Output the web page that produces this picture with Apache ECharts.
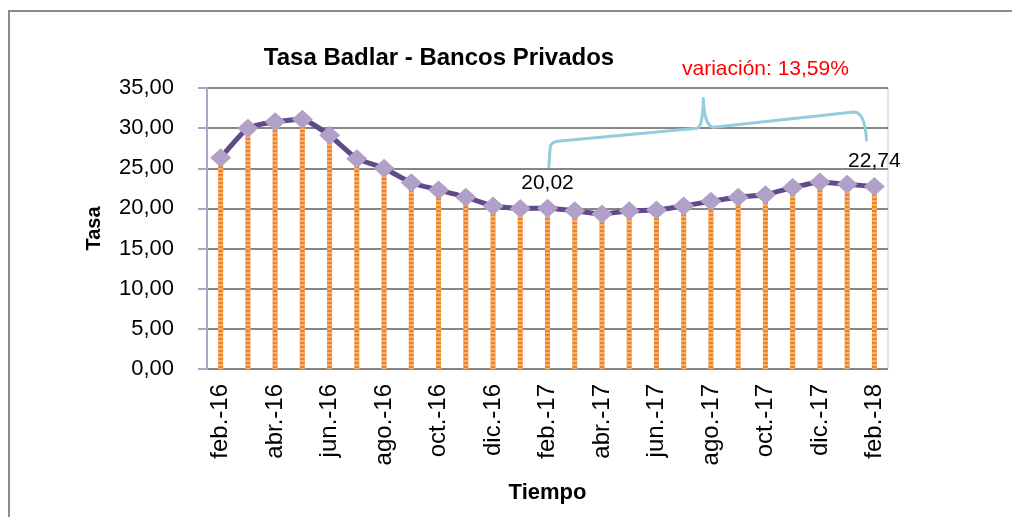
<!DOCTYPE html>
<html>
<head>
<meta charset="utf-8">
<script src="https://cdn.jsdelivr.net/npm/echarts@6/dist/echarts.min.js"></script>
<style>html,body{margin:0;padding:0;background:#fff}#c{width:1012px;height:517px}</style>
</head>
<body>
<div id="c"></div>
<script>
const categories = ['feb.-16','mar.-16','abr.-16','may.-16','jun.-16','jul.-16','ago.-16','sep.-16','oct.-16','nov.-16','dic.-16','ene.-17',
  'feb.-17','mar.-17','abr.-17','may.-17','jun.-17','jul.-17','ago.-17','sep.-17','oct.-17','nov.-17','dic.-17','ene.-18','feb.-18'];
const tasa = [26.3,30.0,30.8,31.1,29.1,26.2,25.0,23.2,22.3,21.4,20.3,20.0,
  20.02,19.7,19.3,19.7,19.8,20.3,20.9,21.4,21.7,22.6,23.3,23.0,22.74];
const labelledIdx = [12, 24];
const variacionText = 'variación: 13,59%';
const titleText = 'Tasa Badlar - Bancos Privados';

const FONT = 'Liberation Sans';
const fmt = v => v.toFixed(2).replace('.', ',');

const chart = echarts.init(document.getElementById('c'), null, {renderer: 'canvas'});

const lineData = tasa.map((v, i) => labelledIdx.includes(i)
  ? {value: v, label: {show: true, position: 'top', distance: 5, formatter: p => fmt(p.value),
      fontFamily: FONT, fontSize: 21, color: '#000'}}
  : v);

chart.setOption({
  animation: false,
  backgroundColor: '#fff',
  title: {
    text: titleText, left: 434, top: 41, textAlign: 'center',
    textStyle: {fontFamily: FONT, fontSize: 24, fontWeight: 'bold', color: '#000'}
  },
  grid: {left: 207, right: 124, top: 88, bottom: 148, show: true, borderColor: '#c8c8c8', borderWidth: 1, backgroundColor: 'transparent'},
  xAxis: {
    type: 'category', data: categories, boundaryGap: true,
    name: 'Tiempo', nameLocation: 'middle', nameGap: 113,
    nameTextStyle: {fontFamily: FONT, fontSize: 22, fontWeight: 'bold', color: '#000'},
    axisLine: {show: false}, axisTick: {show: false},
    axisLabel: {interval: 1, rotate: 90, margin: 15, fontFamily: FONT, fontSize: 24, color: '#000'},
    splitLine: {show: false}
  },
  yAxis: {
    type: 'value', min: 0, max: 35, interval: 5,
    name: 'Tasa', nameLocation: 'middle', nameGap: 103, nameRotate: 90,
    nameTextStyle: {fontFamily: FONT, fontSize: 20, fontWeight: 'bold', color: '#000'},
    axisLine: {show: true, lineStyle: {color: '#b3a2c7', width: 2}},
    axisTick: {show: true, length: 9, lineStyle: {color: '#b3a2c7', width: 2}},
    axisLabel: {margin: 33, formatter: fmt, fontFamily: FONT, fontSize: 22, color: '#000'},
    splitLine: {show: true, lineStyle: {color: '#868686', width: 2}}
  },
  series: [
    {
      type: 'bar', data: tasa, barWidth: 5, z: 2,
      itemStyle: {
        color: '#ee8226',
        decal: {symbol: 'rect', symbolSize: 1, dashArrayX: [1, 0], dashArrayY: [2, 2], rotation: 0, color: 'rgba(255,215,170,0.55)'}
      }
    },
    {
      type: 'line', data: lineData, z: 3, smooth: 0.15,
      showSymbol: true, showAllSymbol: true,
      symbol: 'diamond', symbolSize: [21, 19],
      lineStyle: {color: '#5f4a8b', width: 5},
      itemStyle: {color: '#b1a0c7', borderWidth: 0}
    }
  ]
});

// annotation brace anchored to the axes
const x0 = chart.convertToPixel({xAxisIndex: 0}, 12);
const x1 = chart.convertToPixel({xAxisIndex: 0}, 24);
const step = (x1 - x0) / 12;
const P = (k, v) => [x0 + (k - 12) * step, chart.convertToPixel({yAxisIndex: 0}, v)];
function quad(a, c, b, n) {
  const out = [];
  for (let i = 1; i <= n; i++) {
    const t = i / n, u = 1 - t;
    out.push([u*u*a[0] + 2*u*t*c[0] + t*t*b[0], u*u*a[1] + 2*u*t*c[1] + t*t*b[1]]);
  }
  return out;
}
const braceParts = [];
let cur = P(12.05, 25.2);
braceParts.push(cur);
cur = P(12.1, 27.7); braceParts.push(cur);
let nxt = P(12.45, 28.4); braceParts.push(...quad(cur, P(12.15, 28.3), nxt, 8)); cur = nxt;
cur = P(17.5, 30.0); braceParts.push(cur);
nxt = P(17.72, 33.7); braceParts.push(...quad(cur, P(17.7, 30.2), nxt, 10)); cur = nxt;
nxt = P(18.1, 30.1); braceParts.push(...quad(cur, P(17.76, 30.2), nxt, 10)); cur = nxt;
cur = P(23.23, 32.0); braceParts.push(cur);
nxt = P(23.71, 28.5); braceParts.push(...quad(cur, P(23.65, 32.1), nxt, 10));

const txtPos = P(20, 37.3);

chart.setOption({
  graphic: [
    {type: 'polyline', shape: {points: [[9, 600], [9, 11], [1100, 11]]}, style: {fill: null, stroke: '#8c8c8c', lineWidth: 2}, silent: true, z: 0},
    {type: 'polyline', shape: {points: braceParts}, style: {fill: null, stroke: '#93cddd', lineWidth: 3, lineJoin: 'round', lineCap: 'round'}, silent: true, z: 10},
    {type: 'text', x: txtPos[0], y: txtPos[1], style: {text: variacionText, fill: '#ff0000', font: '21px "Liberation Sans"', textAlign: 'center', textVerticalAlign: 'middle'}, silent: true, z: 10}
  ]
});
</script>
</body>
</html>
